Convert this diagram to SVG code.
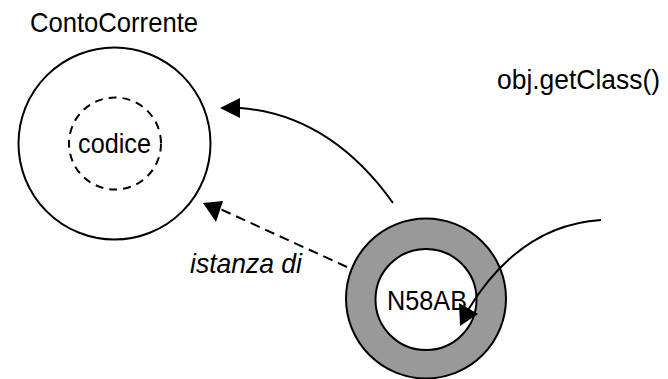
<svg xmlns="http://www.w3.org/2000/svg" width="668" height="379" viewBox="0 0 668 379">
<style>
text{font-family:"Liberation Sans",Arial,sans-serif;font-size:28px;fill:#000}
.ln{fill:none;stroke:#000;stroke-width:2}
</style>
<rect width="668" height="379" fill="#fff"/>
<g id="contocorrente">
<circle class="ln" cx="114.5" cy="143.5" r="96"/>
<text x="30" y="32" textLength="168" lengthAdjust="spacingAndGlyphs">ContoCorrente</text>
</g>
<g id="codice">
<circle class="ln" cx="115" cy="143.5" r="46" stroke-dasharray="8,6"/>
<text x="78" y="153" textLength="73" lengthAdjust="spacingAndGlyphs">codice</text>
</g>
<g id="n58ab">
<circle cx="426" cy="298.5" r="80" fill="#999" stroke="#000" stroke-width="2"/>
<circle cx="426" cy="299.5" r="50.5" fill="#fff" stroke="#000" stroke-width="2"/>
<text x="387" y="310" textLength="80" lengthAdjust="spacingAndGlyphs">N58AB</text>
</g>
<g id="labels">
<text x="497" y="89" textLength="163" lengthAdjust="spacingAndGlyphs">obj.getClass()</text>
<text x="190" y="273" font-style="italic" textLength="112" lengthAdjust="spacingAndGlyphs">istanza di</text>
</g>
<g id="connectors">
<path class="ln" d="M393,203 Q330,115 240,108"/>
<path d="M220,108 L240,98 L240,118 Z"/>
<path class="ln" d="M347,267 L218,208" stroke-dasharray="10,6"/>
<path d="M203,203 L223,201 L216,222 Z"/>
<path class="ln" d="M601,220 Q520,225 468,310"/>
<path d="M478,314 L459,303 L460,326 Z"/>
</g>
</svg>
